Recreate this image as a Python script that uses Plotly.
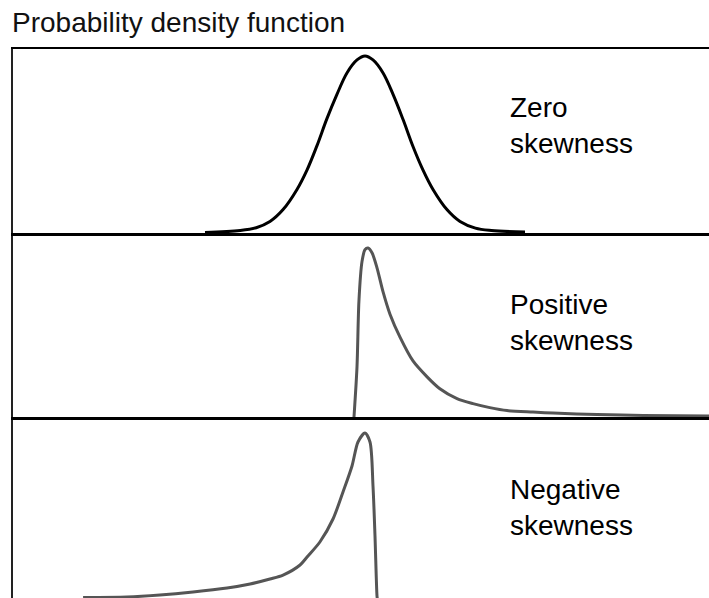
import plotly.graph_objects as go

# ---- data (x: position along value axis, y: density) ----
zero_x = [-5.0, -3.9, -3.4, -2.97, -2.56, -2.13, -1.81, -1.5, -1.19, -0.88, -0.56, -0.25, 0.0,
          0.25, 0.56, 0.88, 1.19, 1.5, 1.81, 2.13, 2.56, 2.97, 3.45, 3.95, 5.0]
zero_y = [0.001, 0.0056, 0.012, 0.026, 0.053, 0.098, 0.143, 0.198, 0.259, 0.3135, 0.363, 0.392, 0.401,
          0.392, 0.363, 0.3135, 0.257, 0.196, 0.143, 0.098, 0.053, 0.026, 0.011, 0.0056, 0.002]

pos_x = [-0.344, -0.25, -0.19, -0.094, 0.0, 0.094, 0.219, 0.375, 0.5625, 0.781, 1.094, 1.5, 1.94,
         2.34, 2.875, 3.375, 3.9, 4.44, 5.25, 5.875, 7.25, 8.69, 10.75]
pos_y = [0.0, 0.1135, 0.262, 0.352, 0.379, 0.383, 0.372, 0.338, 0.284, 0.233, 0.181, 0.127, 0.091,
         0.064, 0.0416, 0.0303, 0.0213, 0.0146, 0.0112, 0.009, 0.0056, 0.0034, 0.0022]

neg_x = [-8.81, -7.44, -6.41, -5.375, -4.31, -3.59, -2.97, -2.56, -2.03, -1.81, -1.41, -1.0, -0.6875,
         -0.406, -0.219, 0.0, 0.156, 0.25, 0.3125, 0.375, 0.39]
neg_y = [0.0056, 0.0067, 0.0112, 0.018, 0.027, 0.036, 0.0472, 0.056, 0.0786, 0.0966, 0.1303, 0.182, 0.2427,
         0.3011, 0.355, 0.3752, 0.355, 0.2562, 0.1438, 0.009, 0.0]

labels = ["Zero<br>skewness", "Positive<br>skewness", "Negative<br>skewness"]
title_text = "Probability density function"

W, H = 709, 598
FONT = "Liberation Sans, Arial, Helvetica, sans-serif"

def py(px):  # pixel row -> paper y
    return 1 - px / H

x0_px = 12.5
xr = [(x0_px - 365) / 32, (709 - 365) / 32]
xdom = [x0_px / W, 1]

fig = go.Figure()
fig.add_trace(go.Scatter(x=zero_x, y=zero_y, mode="lines", xaxis="x", yaxis="y",
                         line=dict(color="#000000", width=3, shape="spline", smoothing=1.0)))
fig.add_trace(go.Scatter(x=pos_x, y=pos_y, mode="lines", xaxis="x2", yaxis="y2",
                         line=dict(color="#555555", width=3, shape="spline", smoothing=0.8)))
fig.add_trace(go.Scatter(x=neg_x, y=neg_y, mode="lines", xaxis="x3", yaxis="y3",
                         line=dict(color="#555555", width=3, shape="spline", smoothing=0.8)))

k = 0.002247
p1_top, p1_bot = 48, 233
p2_top, p2_bot = 236, 417
p3_top = 420

common_x = dict(range=xr, domain=xdom, showgrid=False, zeroline=False, showticklabels=False,
                ticks="", fixedrange=True)
common_y = dict(showgrid=False, zeroline=False, showticklabels=False, ticks="",
                showline=True, linewidth=1.5, linecolor="#222222", fixedrange=True)

fig.update_layout(
    width=W, height=H, margin=dict(l=0, r=0, t=0, b=0),
    paper_bgcolor="white", plot_bgcolor="white", showlegend=False,
    xaxis=dict(anchor="y", showline=True, linewidth=3, linecolor="#000000", **common_x),
    xaxis2=dict(anchor="y2", showline=True, linewidth=3, linecolor="#000000", matches="x", **common_x),
    xaxis3=dict(anchor="y3", showline=False, matches="x", **common_x),
    yaxis=dict(anchor="x", domain=[py(p1_bot), py(p1_top)], range=[0, (p1_bot + 1.5 - p1_top) * k], **common_y),
    yaxis2=dict(anchor="x2", domain=[py(p2_bot), py(p2_top)], range=[0, (p2_bot + 1.5 - p2_top) * k], **common_y),
    yaxis3=dict(anchor="x3", domain=[0, py(p3_top)], range=[2 * k, (600 - p3_top) * k], **common_y),
)

fig.add_shape(type="line", xref="paper", yref="paper", x0=11 / W, x1=1, y0=py(48), y1=py(48),
              line=dict(color="#000000", width=2))

fig.add_annotation(text=title_text, xref="paper", yref="paper", x=10 / W, y=py(5),
                   xanchor="left", yanchor="top", showarrow=False, align="left",
                   font=dict(family=FONT, size=28, color="#111111"))

label_tops = [90, 287, 472]
for lab, top in zip(labels, label_tops):
    fig.add_annotation(text=lab, xref="paper", yref="paper", x=508 / W, y=py(top),
                       xanchor="left", yanchor="top", showarrow=False, align="left",
                       font=dict(family=FONT, size=28, color="#000000"))

fig.write_html("out.html", config={"displayModeBar": False, "staticPlot": True},
               post_script="document.body.style.margin='0';document.body.style.overflow='hidden';")
